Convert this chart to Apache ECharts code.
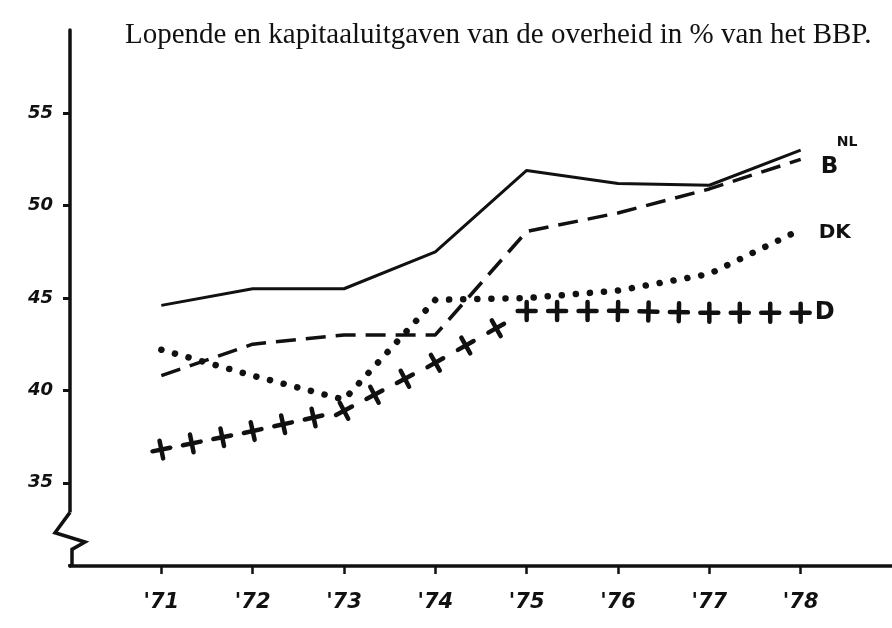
<!DOCTYPE html>
<html>
<head>
<meta charset="utf-8">
<script src="https://cdn.jsdelivr.net/npm/echarts@6/dist/echarts.min.js"></script>
<style>
html,body{margin:0;padding:0;background:#fff;}
#chart{width:892px;height:628px;}
</style>
</head>
<body>
<div id="chart"></div>
<script>
// jaren op de x-as
var years = [71, 72, 73, 74, 75, 76, 77, 78];
var yearLabels = ["'71", "'72", "'73", "'74", "'75", "'76", "'77", "'78"];
var yTicks = [35, 40, 45, 50, 55];

// uitgaven in % van het BBP
var nlValues = [44.6, 45.5, 45.5, 47.5, 51.9, 51.2, 51.1, 53.0];
var bValues  = [40.8, 42.5, 43.0, 43.0, 48.6, 49.6, 50.9, 52.5];
var dkValues = [42.2, 40.8, 39.5, 44.9, 45.0, 45.4, 46.3, 48.7];
var dValues  = [36.8, 37.8, 38.9, 41.5, 44.3, 44.3, 44.2, 44.2];

var ink = '#111';
var hand = 'DejaVu Sans';

function pairs(vals){
    return years.map(function(y, i){ return [y, vals[i]]; });
}

// D wordt getekend als rij plusjes langs de lijn
function renderPlus(params, api){
    var i = params.dataIndex;
    if (i >= years.length - 1) return;
    var p0 = api.coord([years[i], dValues[i]]);
    var p1 = api.coord([years[i + 1], dValues[i + 1]]);
    var dx = p1[0] - p0[0], dy = p1[1] - p0[1];
    var len = Math.sqrt(dx * dx + dy * dy);
    var n = Math.max(1, Math.round(len / 33));
    var rot = -Math.atan2(dy, dx);
    var last = i === years.length - 2;
    var children = [];
    for (var k = 0; k <= (last ? n : n - 1); k++) {
        var t = k / n;
        children.push({
            type: 'group',
            x: p0[0] + dx * t,
            y: p0[1] + dy * t,
            rotation: rot,
            children: [
                {type: 'line', shape: {x1: -9, y1: 0, x2: 9, y2: 0}, style: {stroke: ink, lineWidth: 4.5, lineCap: 'round'}},
                {type: 'line', shape: {x1: 0, y1: -9, x2: 0, y2: 9}, style: {stroke: ink, lineWidth: 4.5, lineCap: 'round'}}
            ]
        });
    }
    return {type: 'group', children: children};
}

function endLabel(size, offset){
    return {
        show: true,
        formatter: '{a}',
        color: ink,
        fontFamily: hand,
        fontWeight: 'bold',
        fontSize: size,
        offset: offset
    };
}

var chart = echarts.init(document.getElementById('chart'));
var option = {
    animation: false,
    backgroundColor: '#fff',
    title: {
        text: 'Lopende en kapitaaluitgaven van de overheid in % van het BBP.',
        left: 120,
        top: 16,
        textStyle: {
            fontFamily: 'Liberation Serif',
            fontWeight: 'normal',
            fontSize: 29,
            color: ink
        }
    },
    grid: {
        left: 70,
        right: 0,
        top: 30,
        bottom: 62
    },
    xAxis: {
        type: 'value',
        min: 70,
        max: 79,
        splitLine: {show: false},
        axisLine: {lineStyle: {color: ink, width: 3.5}},
        axisTick: {
            customValues: years,
            length: 8,
            lineStyle: {color: ink, width: 2.5}
        },
        axisLabel: {
            customValues: years,
            formatter: function(v){ return yearLabels[years.indexOf(v)]; },
            margin: 26,
            color: ink,
            fontFamily: hand,
            fontStyle: 'italic',
            fontWeight: 'bold',
            fontSize: 21
        }
    },
    yAxis: {
        type: 'value',
        min: 30.5,
        max: 59.5,
        splitLine: {show: false},
        axisLine: {show: true, lineStyle: {color: ink, width: 3.5}},
        axisTick: {
            show: true,
            customValues: yTicks,
            length: 7,
            lineStyle: {color: ink, width: 3}
        },
        axisLabel: {
            customValues: yTicks,
            margin: 17,
            color: ink,
            fontFamily: hand,
            fontStyle: 'italic',
            fontWeight: 'bold',
            fontSize: 18
        }
    },
    series: [
        {
            name: 'NL',
            type: 'line',
            data: pairs(nlValues),
            symbol: 'none',
            lineStyle: {color: ink, width: 3},
            endLabel: endLabel(14, [28, -8])
        },
        {
            name: 'B',
            type: 'line',
            data: pairs(bValues),
            symbol: 'none',
            lineStyle: {color: ink, width: 3.5, type: [20, 10]},
            endLabel: endLabel(23, [12, 8])
        },
        {
            name: 'DK',
            type: 'line',
            data: pairs(dkValues),
            symbol: 'none',
            lineStyle: {color: ink, width: 6.5, type: [0.1, 14], cap: 'round'},
            endLabel: endLabel(20, [10, 3])
        },
        {
            name: 'D',
            type: 'line',
            data: pairs(dValues),
            symbol: 'none',
            lineStyle: {opacity: 0},
            endLabel: endLabel(24, [6, 0])
        },
        {
            name: 'D',
            type: 'custom',
            data: pairs(dValues),
            encode: {x: 0, y: 1},
            renderItem: renderPlus
        }
    ]
};
chart.setOption(option);

// onderbreking (zigzag) in de y-as
var zig = [[0, 33.4], [-15, 32.3], [15, 31.8], [2, 31.4], [2, 30.5]];
var pts = zig.map(function(z){
    var p = chart.convertToPixel({xAxisIndex: 0, yAxisIndex: 0}, [70, z[1]]);
    return [p[0] + z[0], p[1]];
});
var axisX = pts[0][0];
chart.setOption({
    graphic: [
        {
            type: 'rect',
            shape: {x: axisX - 4, y: pts[0][1], width: 8, height: pts[4][1] - pts[0][1] - 2},
            style: {fill: '#fff'},
            z: 100
        },
        {
            type: 'polyline',
            shape: {points: pts},
            style: {stroke: ink, lineWidth: 3.5, fill: null, lineJoin: 'miter'},
            z: 101
        }
    ]
});
</script>
</body>
</html>
